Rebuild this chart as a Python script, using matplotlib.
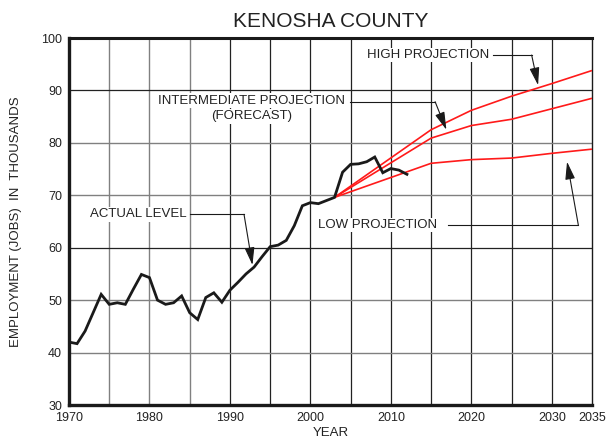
import matplotlib
matplotlib.use("Agg")
import matplotlib.pyplot as plt

plt.rcParams['font.family'] = ['Liberation Sans', 'DejaVu Sans']

# ---- data ----
actual_years = list(range(1970, 2013))
actual_values = [42.0, 41.7, 44.1, 47.6, 51.1, 49.2, 49.5, 49.2, 52.1, 54.9,
                 54.3, 50.0, 49.2, 49.5, 50.8, 47.6, 46.3, 50.5, 51.4, 49.6,
                 51.9, 53.4, 55.0, 56.3, 58.3, 60.2, 60.5, 61.4, 64.2, 68.0,
                 68.6, 68.4, 69.0, 69.6, 74.4, 75.9, 76.0, 76.4, 77.3, 74.3,
                 75.1, 74.8, 74.0]

proj_years = [2003, 2015, 2020, 2025, 2030, 2035]
high_proj = [69.6, 82.5, 86.2, 88.9, 91.3, 93.8]
intermediate_proj = [69.6, 80.9, 83.3, 84.5, 86.5, 88.5]
low_proj = [69.6, 76.1, 76.8, 77.1, 78.0, 78.8]

x_ticks = [1970, 1980, 1990, 2000, 2010, 2020, 2030, 2035]
y_ticks = [30, 40, 50, 60, 70, 80, 90, 100]

fig = plt.figure(figsize=(6.08, 4.44), dpi=100)
ax = fig.add_axes([69/608, 1-405/444, (592-69)/608, (405-38)/444])
ax.set_xlim(1970, 2035)
ax.set_ylim(30, 100)

# grid
gray = '#808080'
dark = '#222222'
for yr in range(1975, 2035, 5):
    ax.axvline(yr, color=gray if yr < 1990 else dark, lw=1.0 if yr < 1990 else 0.9, zorder=1)
for v in range(40, 100, 10):
    ax.axhline(v, color=dark if v in (60, 90) else gray, lw=0.9 if v in (60, 90) else 1.0, zorder=1)

# projections
for series in (high_proj, intermediate_proj, low_proj):
    ax.plot(proj_years, series, color='#ff1a1a', lw=1.2, zorder=3, solid_capstyle='butt')
# actual
ax.plot(actual_years, actual_values, color='#1a1a1a', lw=2.0, zorder=4, solid_joinstyle='miter')

# spines
for s in ('left', 'bottom'):
    ax.spines[s].set_linewidth(2.4)
    ax.spines[s].set_color('#1a1a1a')
ax.spines['top'].set_linewidth(2.2)
ax.spines['top'].set_color('#1a1a1a')
ax.spines['right'].set_linewidth(1.0)
ax.spines['right'].set_color('#1a1a1a')

ax.set_xticks(x_ticks)
ax.set_yticks(y_ticks)
ax.tick_params(length=0, labelsize=9, colors='#222222', pad=5)

ax.set_xlabel('YEAR', fontsize=9.5, color='#222222', labelpad=2)
ax.set_ylabel('EMPLOYMENT (JOBS)  IN  THOUSANDS', fontsize=9.5, color='#222222', labelpad=14)
ax.set_title('KENOSHA COUNTY', fontsize=15, color='#222222', pad=8)

txt_kw = dict(fontsize=9.5, color='#222222', zorder=6,
              bbox=dict(facecolor='white', edgecolor='none', pad=1.0))
arr = dict(arrowstyle='-|>,head_length=0.9,head_width=0.25', color='#1a1a1a',
           lw=0.8, shrinkA=0, shrinkB=0, mutation_scale=12)
ln = dict(color='#1a1a1a', lw=0.8, zorder=5)

# HIGH PROJECTION
ax.text(2022.2, 96.75, 'HIGH PROJECTION', ha='right', va='center', **txt_kw)
ax.plot([2022.7, 2027.5], [96.75, 96.75], **ln)
ax.annotate('', xy=(2028.3, 91.0), xytext=(2027.5, 96.75), arrowprops=arr, zorder=5)

# INTERMEDIATE PROJECTION
ax.text(1992.7, 88.0, 'INTERMEDIATE PROJECTION', ha='center', va='center', **txt_kw)
ax.text(1992.7, 85.1, '(FORECAST)', ha='center', va='center', **txt_kw)
ax.plot([2004.9, 2015.5], [87.85, 87.85], **ln)
ax.annotate('', xy=(2016.9, 82.5), xytext=(2015.5, 87.85), arrowprops=arr, zorder=5)

# LOW PROJECTION
ax.text(2008.3, 64.33, 'LOW PROJECTION', ha='center', va='center', **txt_kw)
ax.plot([2017.1, 2033.3], [64.33, 64.33], **ln)
ax.annotate('', xy=(2031.9, 76.4), xytext=(2033.3, 64.33), arrowprops=arr, zorder=5)

# ACTUAL LEVEL
ax.text(1984.6, 66.37, 'ACTUAL LEVEL', ha='right', va='center', **txt_kw)
ax.plot([1985.0, 1991.75], [66.37, 66.37], **ln)
ax.annotate('', xy=(1992.8, 56.7), xytext=(1991.75, 66.37), arrowprops=arr, zorder=5)

fig.savefig('out.png', dpi=100)
